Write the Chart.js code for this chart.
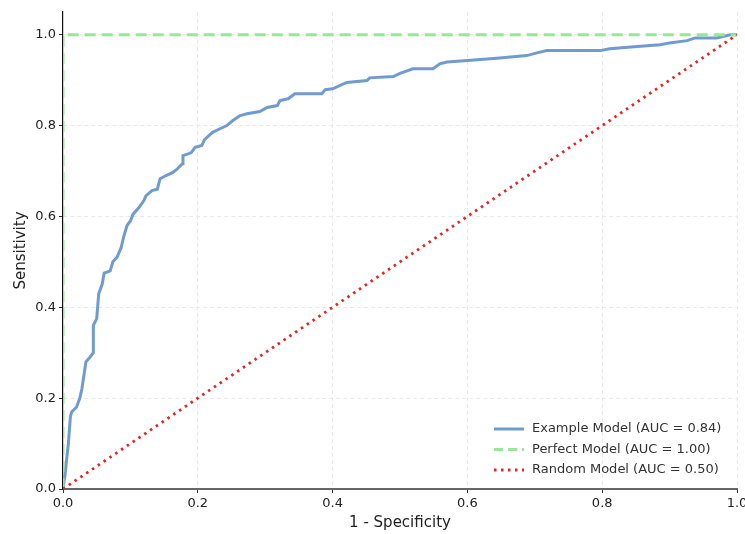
<!DOCTYPE html>
<html>
<head>
<meta charset="utf-8">
<script src="https://cdn.jsdelivr.net/npm/chart.js@4"></script>
<style>
  html, body { margin: 0; padding: 0; background: #fff; }
  #wrap { width: 745px; height: 534px; }
</style>
</head>
<body>
<div id="wrap"><canvas id="roc" width="745" height="534"></canvas></div>
<script>
// ROC curve
const fpr = [0, 0.003, 0.005, 0.008, 0.011, 0.013, 0.02, 0.025, 0.028, 0.031, 0.034, 0.04, 0.045, 0.045, 0.05, 0.053,
  0.058, 0.061, 0.07, 0.074, 0.08, 0.086, 0.09, 0.095, 0.1, 0.104, 0.113, 0.12, 0.123, 0.132, 0.14, 0.144, 0.153, 0.163,
  0.17, 0.177, 0.178, 0.19, 0.196, 0.206, 0.21, 0.218, 0.222, 0.233, 0.243, 0.252, 0.263, 0.273, 0.292, 0.303, 0.318,
  0.322, 0.334, 0.344, 0.384, 0.389, 0.4, 0.421, 0.451, 0.455, 0.49, 0.5, 0.519, 0.549, 0.559, 0.57, 0.6, 0.634, 0.648,
  0.688, 0.703, 0.718, 0.797, 0.811, 0.852, 0.886, 0.9, 0.926, 0.938, 0.97, 0.99, 1.0];
const tpr = [0, 0.03, 0.06, 0.1, 0.16, 0.17, 0.18, 0.2, 0.22, 0.25, 0.28, 0.29, 0.3, 0.36, 0.375, 0.43,
  0.45, 0.475, 0.48, 0.5, 0.51, 0.53, 0.555, 0.58, 0.59, 0.605, 0.62, 0.635, 0.645, 0.657, 0.66, 0.683, 0.69, 0.697,
  0.705, 0.716, 0.734, 0.74, 0.752, 0.756, 0.769, 0.78, 0.785, 0.793, 0.8, 0.811, 0.822, 0.826, 0.831, 0.84, 0.844,
  0.855, 0.859, 0.87, 0.87, 0.879, 0.881, 0.895, 0.899, 0.905, 0.908, 0.915, 0.925, 0.925, 0.936, 0.94, 0.943, 0.947, 0.949,
  0.954, 0.96, 0.965, 0.965, 0.969, 0.974, 0.978, 0.982, 0.987, 0.993, 0.993, 1.0, 1.0];
const perfectX = [0, 0, 1];
const perfectY = [0, 1, 1];
const randomX = [0, 1];
const randomY = [0, 1];
const labels = ["Example Model (AUC = 0.84)", "Perfect Model (AUC = 1.00)", "Random Model (AUC = 0.50)"];
const tickValues = [0, 0.2, 0.4, 0.6, 0.8, 1.0];

const pts = (xs, ys) => xs.map((x, i) => ({ x: x, y: ys[i] }));
const FONT = "'DejaVu Sans', sans-serif";

const blue = "rgb(112,155,208)";
const green = "rgb(152,230,152)";
const red = "rgb(222,40,40)";

// legend drawn inside the plot, lower right, like the original
const insideLegend = {
  id: "insideLegend",
  afterDraw(chart) {
    const c = chart.ctx, a = chart.chartArea;
    const styles = [
      { color: blue, dash: [], width: 3 },
      { color: green, dash: [9, 5], width: 3 },
      { color: red, dash: [2.5, 4.5], width: 2.8 }
    ];
    c.save();
    c.font = "13px " + FONT;
    c.textBaseline = "middle";
    labels.forEach((t, i) => {
      const y = a.bottom - 60 + i * 20.5;
      const x0 = a.right - 243;
      c.beginPath();
      c.setLineDash(styles[i].dash);
      c.strokeStyle = styles[i].color;
      c.lineWidth = styles[i].width;
      c.moveTo(x0, y);
      c.lineTo(x0 + 30, y);
      c.stroke();
      c.setLineDash([]);
      c.fillStyle = "#333";
      c.fillText(t, x0 + 38, y);
    });
    c.restore();
  }
};

const axisCommon = (title) => ({
  type: "linear",
  min: 0,
  afterBuildTicks: (s) => { s.ticks = tickValues.map(v => ({ value: v })); },
  ticks: {
    font: { family: FONT, size: 13 },
    color: "#222",
    padding: 3,
    callback: (v) => Number(v).toFixed(1)
  },
  grid: {
    color: (ctx) => (ctx.tick && ctx.tick.value === 0 ? "rgba(0,0,0,0)" : "#e9e9e9"),
    tickColor: "#333",
    tickLength: 4,
    lineWidth: 1
  },
  border: { display: true, dash: [4, 3], width: 1.2, color: "#111" },
  title: { display: true, text: title, font: { family: FONT, size: 15 }, color: "#222" }
});

const xScale = axisCommon("1 - Specificity");
xScale.max = 1;
xScale.border.color = "#666";
xScale.border.width = 2;
xScale.title.padding = 2;
xScale.afterFit = (s) => { s.height = 45; s.paddingLeft = 0; s.paddingRight = 0; };
const yScale = axisCommon("Sensitivity");
yScale.max = 1.05;
yScale.title.padding = { top: 12, bottom: 0 };
yScale.afterFit = (s) => { s.width = 63; s.paddingTop = 0; s.paddingBottom = 0; };

new Chart(document.getElementById("roc").getContext("2d"), {
  type: "line",
  data: {
    datasets: [
      { label: labels[0], data: pts(fpr, tpr), borderColor: blue, borderWidth: 3, pointRadius: 0,
        tension: 0, fill: false, order: 3 },
      { label: labels[1], data: pts(perfectX, perfectY), borderColor: green, borderWidth: 3,
        borderDash: [11, 6], pointRadius: 0, fill: false, order: 2 },
      { label: labels[2], data: pts(randomX, randomY), borderColor: red, borderWidth: 2.8,
        borderDash: [2.5, 4.5], pointRadius: 0, fill: false, order: 1 }
    ]
  },
  options: {
    responsive: false,
    animation: false,
    parsing: false,
    layout: { padding: { top: 12, right: 8, left: 0, bottom: 0 } },
    plugins: { legend: { display: false }, tooltip: { enabled: false } },
    scales: { x: xScale, y: yScale }
  },
  plugins: [insideLegend]
});
</script>
</body>
</html>
